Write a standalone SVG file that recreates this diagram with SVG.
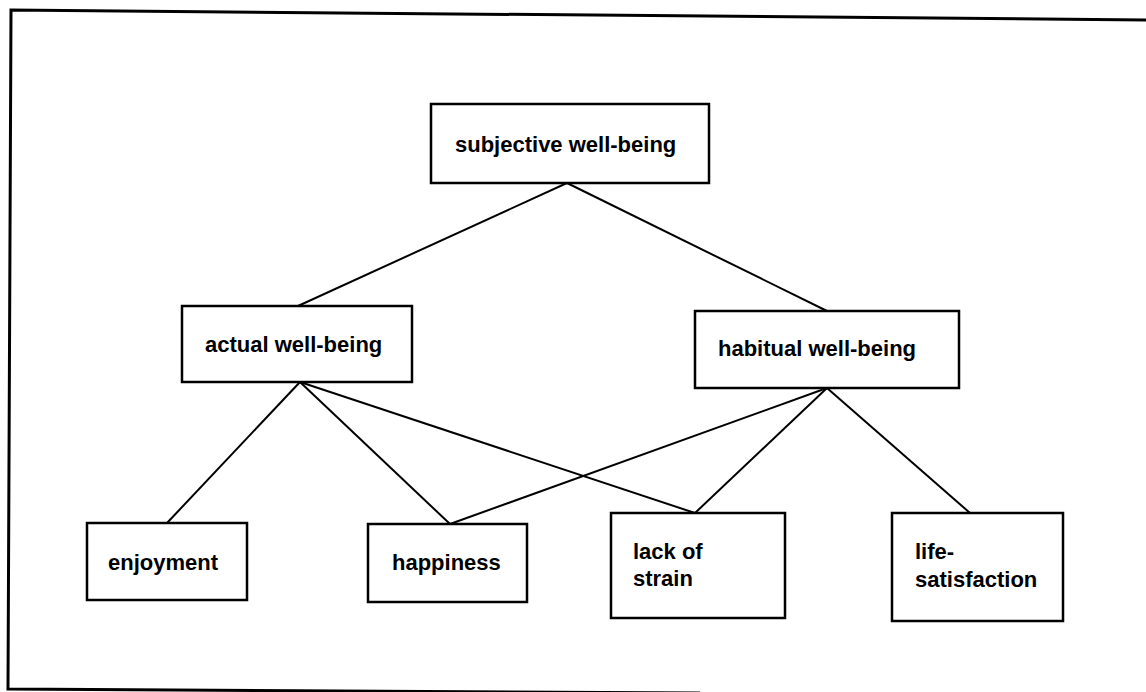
<svg xmlns="http://www.w3.org/2000/svg" width="1146" height="692" viewBox="0 0 1146 692">
<style>
.box{fill:#fff;stroke:#000;stroke-width:2.5}
.lbl{font-family:"Liberation Sans",Arial,sans-serif;font-weight:bold;font-size:22px;fill:#000}
.con{stroke:#000;stroke-width:2;fill:none}
.frame{stroke:#000;stroke-width:3;fill:none}
</style>
<rect width="1146" height="692" fill="#fff"/>
<path class="frame" d="M1150,20 L11,10 L8,689 L700,693"/>
<g id="connectors">
<line class="con" x1="567" y1="183" x2="298" y2="306"/>
<line class="con" x1="567" y1="183" x2="827" y2="311"/>
<line class="con" x1="300" y1="382" x2="167" y2="523"/>
<line class="con" x1="300" y1="382" x2="450" y2="524"/>
<line class="con" x1="300" y1="382" x2="695" y2="513"/>
<line class="con" x1="827" y1="388" x2="450" y2="524"/>
<line class="con" x1="827" y1="388" x2="695" y2="513"/>
<line class="con" x1="827" y1="388" x2="970" y2="513"/>
</g>
<g id="subjective">
<rect class="box" x="431" y="104" width="278" height="79"/>
<text class="lbl" x="455" y="152">subjective well-being</text>
</g>
<g id="actual">
<rect class="box" x="182" y="306" width="230" height="76"/>
<text class="lbl" x="205" y="352">actual well-being</text>
</g>
<g id="habitual">
<rect class="box" x="695" y="311" width="264" height="77"/>
<text class="lbl" x="718" y="356">habitual well-being</text>
</g>
<g id="enjoyment">
<rect class="box" x="87" y="523" width="160" height="77"/>
<text class="lbl" x="108" y="570">enjoyment</text>
</g>
<g id="happiness">
<rect class="box" x="368" y="524" width="159" height="78"/>
<text class="lbl" x="392" y="570">happiness</text>
</g>
<g id="lackofstrain">
<rect class="box" x="611" y="513" width="174" height="105"/>
<text class="lbl" x="633" y="559">lack of</text>
<text class="lbl" x="633" y="586">strain</text>
</g>
<g id="lifesatisfaction">
<rect class="box" x="892" y="513" width="171" height="108"/>
<text class="lbl" x="915" y="559">life-</text>
<text class="lbl" x="915" y="587">satisfaction</text>
</g>
</svg>
